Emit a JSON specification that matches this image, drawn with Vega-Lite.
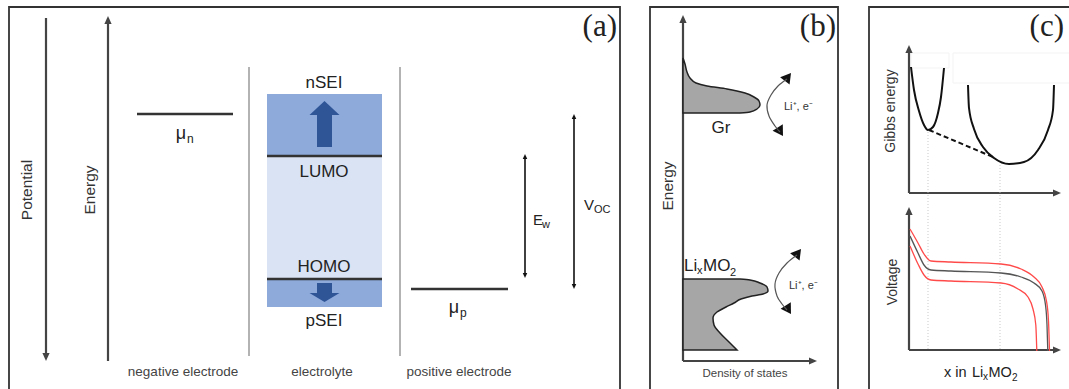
{
  "$schema": "https://vega.github.io/schema/vega-lite/v6.json",
  "width": 1069,
  "height": 389,
  "padding": 0,
  "autosize": {"type": "fit", "contains": "padding"},
  "background": "white",
  "config": {"view": {"stroke": null}, "text": {"font": "Liberation Sans"}},
  "datasets": {
    "zones": [
      {"k": "sei", "x": 267, "x2": 382, "y": 94, "y2": 156},
      {"k": "win", "x": 267, "x2": 382, "y": 156, "y2": 279},
      {"k": "sei", "x": 267, "x2": 382, "y": 279, "y2": 307}
    ],
    "shafts": [
      {"x": 317, "x2": 332, "y": 114, "y2": 147},
      {"x": 317, "x2": 332, "y": 283, "y2": 294}
    ],
    "bigheads": [
      {"k": "up", "x": 324.5, "y": 101, "a": 0},
      {"k": "down", "x": 324.5, "y": 302, "a": 180}
    ],
    "frames": [
      {"x": 9, "x2": 620, "y": 7, "y2": 400},
      {"x": 650, "x2": 838, "y": 7, "y2": 400},
      {"x": 869, "x2": 1080, "y": 7, "y2": 400}
    ],
    "boxes": [
      {"x": 911, "x2": 949, "y": 53, "y2": 68},
      {"x": 953, "x2": 1075, "y": 53, "y2": 83}
    ],
    "segs": [
      {"k": "level", "x": 137, "y": 114, "x2": 233, "y2": 114},
      {"k": "level", "x": 411, "y": 289, "x2": 508, "y2": 289},
      {"k": "level", "x": 267, "y": 156, "x2": 382, "y2": 156},
      {"k": "level", "x": 267, "y": 279, "x2": 382, "y2": 279},
      {"k": "divider", "x": 249, "y": 67, "x2": 249, "y2": 356},
      {"k": "divider", "x": 400, "y": 67, "x2": 400, "y2": 356},
      {"k": "axis", "x": 46, "y": 18, "x2": 46, "y2": 354},
      {"k": "axis", "x": 108, "y": 23, "x2": 108, "y2": 361},
      {"k": "axis", "x": 683, "y": 22, "x2": 683, "y2": 361},
      {"k": "axis", "x": 683, "y": 361, "x2": 810, "y2": 361},
      {"k": "axis", "x": 909, "y": 52, "x2": 909, "y2": 193},
      {"k": "axis", "x": 909, "y": 193, "x2": 1054, "y2": 193},
      {"k": "axis", "x": 909, "y": 214, "x2": 909, "y2": 350},
      {"k": "axis", "x": 909, "y": 350, "x2": 1054, "y2": 350},
      {"k": "dim", "x": 525, "y": 158, "x2": 525, "y2": 274},
      {"k": "dim", "x": 574, "y": 118, "x2": 574, "y2": 285},
      {"k": "guide", "x": 928, "y": 132, "x2": 928, "y2": 350},
      {"k": "guide", "x": 1000, "y": 165, "x2": 1000, "y2": 350},
      {"k": "tangent", "x": 929, "y": 130, "x2": 993, "y2": 157}
    ],
    "heads": [
      {"k": "axis", "x": 46, "y": 361, "a": 180},
      {"k": "axis", "x": 108, "y": 16, "a": 0},
      {"k": "axis", "x": 683, "y": 15, "a": 0},
      {"k": "axis", "x": 817, "y": 361, "a": 90},
      {"k": "axis", "x": 909, "y": 45, "a": 0},
      {"k": "axis", "x": 1061, "y": 193, "a": 90},
      {"k": "axis", "x": 909, "y": 207, "a": 0},
      {"k": "axis", "x": 1061, "y": 350, "a": 90},
      {"k": "dim", "x": 525, "y": 154, "a": 0},
      {"k": "dim", "x": 525, "y": 278, "a": 180},
      {"k": "dim", "x": 574, "y": 114, "a": 0},
      {"k": "dim", "x": 574, "y": 289, "a": 180},
      {"k": "curl", "x": 791, "y": 73, "a": 38},
      {"k": "curl", "x": 783, "y": 136, "a": 148},
      {"k": "curl", "x": 801, "y": 249, "a": 38},
      {"k": "curl", "x": 791, "y": 314, "a": 148}
    ],
    "curls": [
      {"c": 1, "i": 1, "x": 787, "y": 79},
      {"c": 1, "i": 2, "x": 778, "y": 86},
      {"c": 1, "i": 3, "x": 771, "y": 95},
      {"c": 1, "i": 4, "x": 767, "y": 105},
      {"c": 1, "i": 5, "x": 769, "y": 116},
      {"c": 1, "i": 6, "x": 775, "y": 126},
      {"c": 1, "i": 7, "x": 780, "y": 132},
      {"c": 2, "i": 1, "x": 797, "y": 255},
      {"c": 2, "i": 2, "x": 787, "y": 263},
      {"c": 2, "i": 3, "x": 779, "y": 273},
      {"c": 2, "i": 4, "x": 775, "y": 284},
      {"c": 2, "i": 5, "x": 777, "y": 296},
      {"c": 2, "i": 6, "x": 782, "y": 304},
      {"c": 2, "i": 7, "x": 787, "y": 310}
    ],
    "dos": [
      {"s": "Gr", "y": 58, "x": 683},
      {"s": "Gr", "y": 64, "x": 685},
      {"s": "Gr", "y": 72, "x": 687},
      {"s": "Gr", "y": 78, "x": 690},
      {"s": "Gr", "y": 83, "x": 696},
      {"s": "Gr", "y": 86, "x": 707},
      {"s": "Gr", "y": 89, "x": 727},
      {"s": "Gr", "y": 93, "x": 745},
      {"s": "Gr", "y": 97, "x": 754},
      {"s": "Gr", "y": 101, "x": 759},
      {"s": "Gr", "y": 105, "x": 760},
      {"s": "Gr", "y": 109, "x": 757},
      {"s": "Gr", "y": 112, "x": 750},
      {"s": "Gr", "y": 113, "x": 740},
      {"s": "Li", "y": 279, "x": 740},
      {"s": "Li", "y": 280, "x": 750},
      {"s": "Li", "y": 283, "x": 760},
      {"s": "Li", "y": 287, "x": 767},
      {"s": "Li", "y": 291, "x": 768},
      {"s": "Li", "y": 294, "x": 763},
      {"s": "Li", "y": 296, "x": 752},
      {"s": "Li", "y": 299, "x": 741},
      {"s": "Li", "y": 303, "x": 734},
      {"s": "Li", "y": 307, "x": 726},
      {"s": "Li", "y": 312, "x": 717},
      {"s": "Li", "y": 318, "x": 713},
      {"s": "Li", "y": 325, "x": 714},
      {"s": "Li", "y": 333, "x": 720},
      {"s": "Li", "y": 342, "x": 729},
      {"s": "Li", "y": 350, "x": 737}
    ],
    "gibbs": [
      {"c": "L", "x": 911, "y": 67},
      {"c": "L", "x": 914, "y": 90},
      {"c": "L", "x": 919, "y": 111},
      {"c": "L", "x": 924, "y": 125},
      {"c": "L", "x": 928, "y": 130},
      {"c": "L", "x": 933, "y": 127},
      {"c": "L", "x": 938, "y": 113},
      {"c": "L", "x": 941, "y": 97},
      {"c": "L", "x": 944, "y": 68},
      {"c": "R", "x": 968, "y": 85},
      {"c": "R", "x": 969, "y": 108},
      {"c": "R", "x": 974, "y": 129},
      {"c": "R", "x": 983, "y": 147},
      {"c": "R", "x": 994, "y": 158},
      {"c": "R", "x": 1009, "y": 164},
      {"c": "R", "x": 1024, "y": 162},
      {"c": "R", "x": 1038, "y": 150},
      {"c": "R", "x": 1048, "y": 130},
      {"c": "R", "x": 1053, "y": 110},
      {"c": "R", "x": 1054, "y": 85}
    ],
    "volt": [
      {"c": "hi", "x": 910, "y": 229},
      {"c": "hi", "x": 918, "y": 243},
      {"c": "hi", "x": 924, "y": 254},
      {"c": "hi", "x": 931, "y": 261},
      {"c": "hi", "x": 951, "y": 262},
      {"c": "hi", "x": 1001, "y": 264},
      {"c": "hi", "x": 1021, "y": 269},
      {"c": "hi", "x": 1034, "y": 277},
      {"c": "hi", "x": 1042, "y": 287},
      {"c": "hi", "x": 1046.5, "y": 301},
      {"c": "hi", "x": 1048.5, "y": 321},
      {"c": "hi", "x": 1049.5, "y": 351},
      {"c": "mid", "x": 910, "y": 236},
      {"c": "mid", "x": 918, "y": 253},
      {"c": "mid", "x": 924, "y": 265},
      {"c": "mid", "x": 931, "y": 270},
      {"c": "mid", "x": 951, "y": 271},
      {"c": "mid", "x": 1001, "y": 273},
      {"c": "mid", "x": 1021, "y": 277},
      {"c": "mid", "x": 1034, "y": 283},
      {"c": "mid", "x": 1042, "y": 291},
      {"c": "mid", "x": 1045.5, "y": 305},
      {"c": "mid", "x": 1047, "y": 325},
      {"c": "mid", "x": 1047.8, "y": 351},
      {"c": "lo", "x": 910, "y": 246},
      {"c": "lo", "x": 918, "y": 264},
      {"c": "lo", "x": 924, "y": 275},
      {"c": "lo", "x": 931, "y": 280},
      {"c": "lo", "x": 951, "y": 281},
      {"c": "lo", "x": 1001, "y": 283},
      {"c": "lo", "x": 1018, "y": 289},
      {"c": "lo", "x": 1028, "y": 297},
      {"c": "lo", "x": 1033, "y": 309},
      {"c": "lo", "x": 1035.8, "y": 325},
      {"c": "lo", "x": 1036.8, "y": 351}
    ],
    "texts": [
      {"k": "panel", "x": 617, "y": 36, "t": "(a)"},
      {"k": "panel", "x": 836, "y": 36, "t": "(b)"},
      {"k": "panel", "x": 1064, "y": 36, "t": "(c)"},
      {"k": "vlab", "x": 27, "y": 190, "t": "Potential"},
      {"k": "vlab", "x": 90, "y": 190, "t": "Energy"},
      {"k": "vlab", "x": 668, "y": 186, "t": "Energy"},
      {"k": "vlab2", "x": 891, "y": 111, "t": "Gibbs energy"},
      {"k": "vlab2", "x": 893, "y": 282, "t": "Voltage"},
      {"k": "big", "x": 324, "y": 88, "t": "nSEI"},
      {"k": "big", "x": 324, "y": 177, "t": "LUMO"},
      {"k": "big", "x": 324, "y": 272, "t": "HOMO"},
      {"k": "big", "x": 324, "y": 326, "t": "pSEI"},
      {"k": "big", "x": 721, "y": 133, "t": "Gr"},
      {"k": "mu", "x": 181, "y": 139, "t": "μ"},
      {"k": "mu", "x": 454, "y": 313, "t": "μ"},
      {"k": "sub12", "x": 187, "y": 143, "t": "n"},
      {"k": "sub12", "x": 460, "y": 316.5, "t": "p"},
      {"k": "l15", "x": 533, "y": 225, "t": "E"},
      {"k": "l15", "x": 584, "y": 210, "t": "V"},
      {"k": "sub11", "x": 542, "y": 228, "t": "w"},
      {"k": "sub11", "x": 594, "y": 213, "t": "OC"},
      {"k": "l17", "x": 684, "y": 271, "t": "Li"},
      {"k": "l17", "x": 703, "y": 271, "t": "MO"},
      {"k": "sub11", "x": 697, "y": 274, "t": "x"},
      {"k": "sub11", "x": 730, "y": 276, "t": "2"},
      {"k": "l14", "x": 944, "y": 377, "t": "x in"},
      {"k": "l14", "x": 972, "y": 377, "t": "Li"},
      {"k": "l14", "x": 988.5, "y": 377, "t": "MO"},
      {"k": "sub10", "x": 983, "y": 380, "t": "x"},
      {"k": "sub10", "x": 1012, "y": 381, "t": "2"},
      {"k": "bottom", "x": 183, "y": 376, "t": "negative electrode"},
      {"k": "bottom", "x": 322, "y": 376, "t": "electrolyte"},
      {"k": "bottom", "x": 459, "y": 376, "t": "positive electrode"},
      {"k": "dos", "x": 745, "y": 377, "t": "Density of states"},
      {"k": "li", "x": 784, "y": 110, "t": "Li⁺, e⁻"},
      {"k": "li", "x": 789, "y": 289, "t": "Li⁺, e⁻"}
    ]
  },
  "encoding": {
    "x": {"field": "x", "type": "quantitative", "scale": {"domain": [0, 1069], "nice": false, "zero": false}, "axis": null},
    "y": {"field": "y", "type": "quantitative", "scale": {"domain": [0, 389], "nice": false, "zero": false, "reverse": true}, "axis": null}
  },
  "layer": [
    {"data": {"name": "zones"}, "transform": [{"filter": "datum.k=='sei'"}], "mark": {"type": "rect", "color": "#8eaadb"}, "encoding": {"x2": {"field": "x2"}, "y2": {"field": "y2"}}},
    {"data": {"name": "zones"}, "transform": [{"filter": "datum.k=='win'"}], "mark": {"type": "rect", "color": "#dae3f3"}, "encoding": {"x2": {"field": "x2"}, "y2": {"field": "y2"}}},
    {"data": {"name": "shafts"}, "mark": {"type": "rect", "color": "#2f5597"}, "encoding": {"x2": {"field": "x2"}, "y2": {"field": "y2"}}},
    {"data": {"name": "bigheads"}, "transform": [{"filter": "datum.k=='up'"}], "mark": {"type": "point", "shape": "M0,0L1,0.93L-1,0.93Z", "size": 900, "filled": true, "opacity": 1, "color": "#2f5597"}, "encoding": {"angle": {"field": "a", "type": "quantitative", "scale": null}}},
    {"data": {"name": "bigheads"}, "transform": [{"filter": "datum.k=='down'"}], "mark": {"type": "point", "shape": "M0,0L1,0.6L-1,0.6Z", "size": 900, "filled": true, "opacity": 1, "color": "#2f5597"}, "encoding": {"angle": {"field": "a", "type": "quantitative", "scale": null}}},
    {"data": {"name": "frames"}, "mark": {"type": "rect", "fillOpacity": 0, "stroke": "#333333", "strokeWidth": 1.8, "clip": true}, "encoding": {"x2": {"field": "x2"}, "y2": {"field": "y2"}}},
    {"data": {"name": "boxes"}, "mark": {"type": "rect", "fill": "white", "stroke": "#f3f3f3", "strokeWidth": 1, "clip": true}, "encoding": {"x2": {"field": "x2"}, "y2": {"field": "y2"}}},
    {"data": {"name": "segs"}, "transform": [{"filter": "datum.k=='level'"}], "mark": {"type": "rule", "color": "#333333", "strokeWidth": 2.5}, "encoding": {"x2": {"field": "x2"}, "y2": {"field": "y2"}}},
    {"data": {"name": "segs"}, "transform": [{"filter": "datum.k=='divider'"}], "mark": {"type": "rule", "color": "#9a9a9a", "strokeWidth": 1.5}, "encoding": {"x2": {"field": "x2"}, "y2": {"field": "y2"}}},
    {"data": {"name": "segs"}, "transform": [{"filter": "datum.k=='axis'"}], "mark": {"type": "rule", "color": "#444444", "strokeWidth": 2.2}, "encoding": {"x2": {"field": "x2"}, "y2": {"field": "y2"}}},
    {"data": {"name": "segs"}, "transform": [{"filter": "datum.k=='dim'"}], "mark": {"type": "rule", "color": "#111111", "strokeWidth": 1.6}, "encoding": {"x2": {"field": "x2"}, "y2": {"field": "y2"}}},
    {"data": {"name": "segs"}, "transform": [{"filter": "datum.k=='guide'"}], "mark": {"type": "rule", "color": "#bbbbbb", "strokeWidth": 0.8, "strokeDash": [1, 2]}, "encoding": {"x2": {"field": "x2"}, "y2": {"field": "y2"}}},
    {"data": {"name": "segs"}, "transform": [{"filter": "datum.k=='tangent'"}], "mark": {"type": "rule", "color": "#111111", "strokeWidth": 2, "strokeDash": [5, 3]}, "encoding": {"x2": {"field": "x2"}, "y2": {"field": "y2"}}},
    {"data": {"name": "heads"}, "transform": [{"filter": "datum.k=='axis'"}], "mark": {"type": "point", "shape": "M0,0L0.45,1L-0.45,1Z", "size": 256, "filled": true, "opacity": 1, "color": "#444444"}, "encoding": {"angle": {"field": "a", "type": "quantitative", "scale": null}}},
    {"data": {"name": "heads"}, "transform": [{"filter": "datum.k=='dim'"}], "mark": {"type": "point", "shape": "M0,0L0.45,1L-0.45,1Z", "size": 100, "filled": true, "opacity": 1, "color": "#111111"}, "encoding": {"angle": {"field": "a", "type": "quantitative", "scale": null}}},
    {"data": {"name": "heads"}, "transform": [{"filter": "datum.k=='curl'"}], "mark": {"type": "point", "shape": "M0,0L0.6,1L-0.6,1Z", "size": 400, "filled": true, "opacity": 1, "color": "#111111"}, "encoding": {"angle": {"field": "a", "type": "quantitative", "scale": null}}},
    {"data": {"name": "curls"}, "mark": {"type": "line", "color": "#555555", "strokeWidth": 1.2, "interpolate": "cardinal"}, "encoding": {"detail": {"field": "c"}, "order": {"field": "i", "type": "quantitative"}}},
    {"data": {"name": "dos"}, "mark": {"type": "area", "orient": "horizontal", "interpolate": "monotone", "fill": "#a6a6a6", "stroke": "#222222", "strokeWidth": 1.5, "opacity": 1}, "encoding": {
      "x": {"field": "x", "type": "quantitative", "stack": null, "scale": {"domain": [0, 1069], "nice": false, "zero": false}, "axis": null},
      "x2": {"datum": 683},
      "detail": {"field": "s"}}},
    {"data": {"name": "gibbs"}, "mark": {"type": "line", "color": "#111111", "strokeWidth": 2, "interpolate": "monotone"}, "encoding": {"detail": {"field": "c"}}},
    {"data": {"name": "volt"}, "transform": [{"filter": "datum.c!='mid'"}], "mark": {"type": "line", "color": "#ff4a4a", "strokeWidth": 1.3, "interpolate": "monotone"}, "encoding": {"detail": {"field": "c"}}},
    {"data": {"name": "volt"}, "transform": [{"filter": "datum.c=='mid'"}], "mark": {"type": "line", "color": "#555555", "strokeWidth": 1.3, "interpolate": "monotone"}, "encoding": {"detail": {"field": "c"}}},
    {"data": {"name": "texts"}, "transform": [{"filter": "datum.k=='panel'"}], "mark": {"type": "text", "font": "Liberation Serif", "fontSize": 31, "align": "right", "baseline": "alphabetic", "color": "#222222"}, "encoding": {"text": {"field": "t"}}},
    {"data": {"name": "texts"}, "transform": [{"filter": "datum.k=='vlab'"}], "mark": {"type": "text", "fontSize": 15.5, "angle": 270, "align": "center", "baseline": "middle", "color": "#333333"}, "encoding": {"text": {"field": "t"}}},
    {"data": {"name": "texts"}, "transform": [{"filter": "datum.k=='vlab2'"}], "mark": {"type": "text", "fontSize": 14, "angle": 270, "align": "center", "baseline": "middle", "color": "#333333"}, "encoding": {"text": {"field": "t"}}},
    {"data": {"name": "texts"}, "transform": [{"filter": "datum.k=='big'"}], "mark": {"type": "text", "fontSize": 17, "align": "center", "baseline": "alphabetic", "color": "#222222"}, "encoding": {"text": {"field": "t"}}},
    {"data": {"name": "texts"}, "transform": [{"filter": "datum.k=='mu'"}], "mark": {"type": "text", "fontSize": 18, "align": "center", "baseline": "alphabetic", "color": "#222222"}, "encoding": {"text": {"field": "t"}}},
    {"data": {"name": "texts"}, "transform": [{"filter": "datum.k=='sub12'"}], "mark": {"type": "text", "fontSize": 12, "align": "left", "baseline": "alphabetic", "color": "#222222"}, "encoding": {"text": {"field": "t"}}},
    {"data": {"name": "texts"}, "transform": [{"filter": "datum.k=='l15'"}], "mark": {"type": "text", "fontSize": 15, "align": "left", "baseline": "alphabetic", "color": "#222222"}, "encoding": {"text": {"field": "t"}}},
    {"data": {"name": "texts"}, "transform": [{"filter": "datum.k=='sub11'"}], "mark": {"type": "text", "fontSize": 11, "align": "left", "baseline": "alphabetic", "color": "#222222"}, "encoding": {"text": {"field": "t"}}},
    {"data": {"name": "texts"}, "transform": [{"filter": "datum.k=='l17'"}], "mark": {"type": "text", "fontSize": 17, "align": "left", "baseline": "alphabetic", "color": "#222222"}, "encoding": {"text": {"field": "t"}}},
    {"data": {"name": "texts"}, "transform": [{"filter": "datum.k=='l14'"}], "mark": {"type": "text", "fontSize": 14.5, "align": "left", "baseline": "alphabetic", "color": "#222222"}, "encoding": {"text": {"field": "t"}}},
    {"data": {"name": "texts"}, "transform": [{"filter": "datum.k=='sub10'"}], "mark": {"type": "text", "fontSize": 10, "align": "left", "baseline": "alphabetic", "color": "#222222"}, "encoding": {"text": {"field": "t"}}},
    {"data": {"name": "texts"}, "transform": [{"filter": "datum.k=='bottom'"}], "mark": {"type": "text", "fontSize": 13.5, "align": "center", "baseline": "alphabetic", "color": "#444444"}, "encoding": {"text": {"field": "t"}}},
    {"data": {"name": "texts"}, "transform": [{"filter": "datum.k=='dos'"}], "mark": {"type": "text", "fontSize": 11.5, "align": "center", "baseline": "alphabetic", "color": "#444444"}, "encoding": {"text": {"field": "t"}}},
    {"data": {"name": "texts"}, "transform": [{"filter": "datum.k=='li'"}], "mark": {"type": "text", "fontSize": 11, "align": "left", "baseline": "alphabetic", "color": "#333333"}, "encoding": {"text": {"field": "t"}}}
  ]
}
